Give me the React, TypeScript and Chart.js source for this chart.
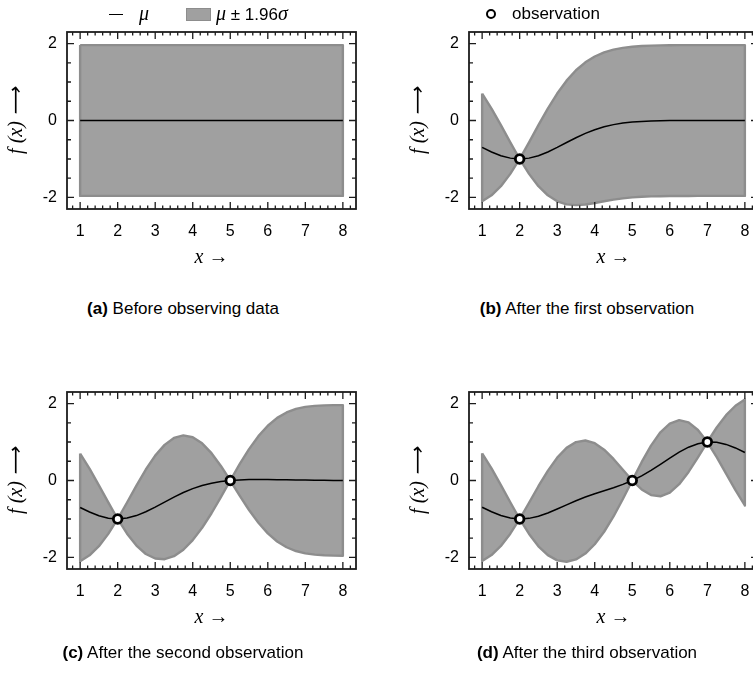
import React, { useEffect, useRef } from "react";
import { Chart, registerables } from "chart.js";

Chart.register(...registerables);

// ---------- data ----------
const xGrid = [1, 1.25, 1.5, 1.75, 2, 2.25, 2.5, 2.75, 3, 3.25, 3.5, 3.75, 4, 4.25, 4.5, 4.75, 5, 5.25, 5.5, 5.75, 6, 6.25, 6.5, 6.75, 7, 7.25, 7.5, 7.75, 8];

// (a) prior
const xA = [1, 8];
const meanA = [0, 0];
const upperA = [1.96, 1.96];
const lowerA = [-1.96, -1.96];

// (b) one observation
const meanB = [-0.7, -0.818, -0.915, -0.978, -1.0, -0.978, -0.915, -0.818, -0.7, -0.572, -0.448, -0.335, -0.24, -0.164, -0.107, -0.067, -0.04, -0.023, -0.013, -0.007, -0.003, -0.002, -0.001, 0, 0, 0, 0, 0, 0];
const upperB = [0.7, 0.309, -0.122, -0.568, -1.0, -0.568, -0.122, 0.309, 0.7, 1.035, 1.305, 1.512, 1.663, 1.769, 1.841, 1.888, 1.918, 1.936, 1.947, 1.953, 1.957, 1.958, 1.959, 1.96, 1.96, 1.96, 1.96, 1.96, 1.96];
const lowerB = [-2.1, -1.945, -1.707, -1.387, -1.0, -1.387, -1.707, -1.945, -2.1, -2.18, -2.2, -2.182, -2.143, -2.098, -2.056, -2.023, -1.999, -1.983, -1.973, -1.967, -1.963, -1.962, -1.961, -1.96, -1.96, -1.96, -1.96, -1.96, -1.96];
const obsXB = [2];
const obsYB = [-1];

// (c) two observations
const meanC = [-0.701, -0.819, -0.916, -0.979, -1.0, -0.977, -0.912, -0.813, -0.691, -0.56, -0.431, -0.313, -0.212, -0.131, -0.071, -0.028, 0.0, 0.016, 0.024, 0.026, 0.025, 0.022, 0.017, 0.013, 0.01, 0.007, 0.004, 0.003, 0.002];
const upperC = [0.699, 0.307, -0.125, -0.57, -1.0, -0.571, -0.132, 0.285, 0.646, 0.926, 1.106, 1.173, 1.125, 0.966, 0.71, 0.378, 0.0, 0.425, 0.815, 1.152, 1.424, 1.628, 1.769, 1.86, 1.912, 1.94, 1.953, 1.958, 1.96];
const lowerC = [-2.1, -1.945, -1.707, -1.387, -1.0, -1.383, -1.692, -1.91, -2.028, -2.046, -1.967, -1.799, -1.549, -1.229, -0.851, -0.434, 0.0, -0.392, -0.767, -1.1, -1.374, -1.585, -1.735, -1.833, -1.893, -1.927, -1.944, -1.953, -1.957];
const obsXC = [2, 5];
const obsYC = [-1, 0];

// (d) three observations
const meanD = [-0.695, -0.813, -0.91, -0.975, -1.0, -0.984, -0.929, -0.844, -0.741, -0.632, -0.526, -0.43, -0.344, -0.266, -0.188, -0.102, 0.0, 0.122, 0.264, 0.422, 0.584, 0.737, 0.866, 0.956, 1.0, 0.993, 0.938, 0.846, 0.727];
const upperD = [0.705, 0.313, -0.119, -0.566, -1.0, -0.578, -0.149, 0.251, 0.593, 0.848, 0.999, 1.039, 0.969, 0.801, 0.56, 0.279, 0.0, 0.476, 0.907, 1.253, 1.481, 1.569, 1.51, 1.312, 1.0, 1.377, 1.698, 1.942, 2.103];
const lowerD = [-2.094, -1.939, -1.701, -1.383, -1.0, -1.389, -1.709, -1.94, -2.075, -2.111, -2.051, -1.898, -1.657, -1.332, -0.935, -0.482, 0.0, -0.232, -0.379, -0.41, -0.314, -0.096, 0.222, 0.601, 1.0, 0.609, 0.179, -0.251, -0.649];
const obsXD = [2, 5, 7];
const obsYD = [-1, 0, 1];

// ticks
const xTickValues = [1, 2, 3, 4, 5, 6, 7, 8];
const yTickValues = [-2, 0, 2];
const xMinorTicks = [0.8, 1.2, 1.4, 1.6, 1.8, 2.2, 2.4, 2.6, 2.8, 3.2, 3.4, 3.6, 3.8, 4.2, 4.4, 4.6, 4.8, 5.2, 5.4, 5.6, 5.8, 6.2, 6.4, 6.6, 6.8, 7.2, 7.4, 7.6, 7.8, 8.2];
const yMinorTicks = [-1.5, -1, -0.5, 0.5, 1, 1.5];

const captions = [
  { bold: "(a)", text: " Before observing data" },
  { bold: "(b)", text: " After the first observation" },
  { bold: "(c)", text: " After the second observation" },
  { bold: "(d)", text: " After the third observation" },
];

// ---------- styling ----------
const SANS = '"Liberation Sans", Arial, Helvetica, sans-serif';
const SERIF = '"Liberation Serif", "Times New Roman", serif';
const BAND_FILL = "#a0a0a0";
const BAND_EDGE = "#8d8d8d";
const AXIS_COLOR = "#1c1c1c";

const CANVAS_W = 380;
const CANVAS_H = 290;

const frameTicksPlugin = {
  id: "frameTicks",
  afterDraw(chart: any) {
    const { ctx, chartArea } = chart;
    const { left, right, top, bottom } = chartArea;
    const xs = chart.scales.x;
    const ys = chart.scales.y;
    ctx.save();
    ctx.strokeStyle = AXIS_COLOR;
    ctx.lineWidth = 1.3;
    ctx.beginPath();
    const xTick = (v: number, len: number) => {
      const p = xs.getPixelForValue(v);
      ctx.moveTo(p, bottom);
      ctx.lineTo(p, bottom - len);
      ctx.moveTo(p, top);
      ctx.lineTo(p, top + len);
    };
    const yTick = (v: number, len: number) => {
      const p = ys.getPixelForValue(v);
      ctx.moveTo(left, p);
      ctx.lineTo(left + len, p);
      ctx.moveTo(right, p);
      ctx.lineTo(right - len, p);
    };
    xTickValues.forEach((v) => xTick(v, 7));
    xMinorTicks.forEach((v) => xTick(v, 3.5));
    yTickValues.forEach((v) => yTick(v, 7));
    yMinorTicks.forEach((v) => yTick(v, 4));
    ctx.stroke();
    ctx.lineWidth = 1.8;
    ctx.strokeRect(left, top, right - left, bottom - top);
    ctx.restore();
  },
};

type PanelData = {
  xs: number[];
  mean: number[];
  upper: number[];
  lower: number[];
  obsX: number[];
  obsY: number[];
};

function buildChart(canvas: HTMLCanvasElement, d: PanelData) {
  const band = [
    ...d.xs.map((x, i) => ({ x, y: d.upper[i] })),
    ...d.xs
      .map((x, i) => ({ x, y: d.lower[i] }))
      .reverse(),
    { x: d.xs[0], y: d.upper[0] },
  ];
  const meanPts = d.xs.map((x, i) => ({ x, y: d.mean[i] }));
  const obsPts = d.obsX.map((x, i) => ({ x, y: d.obsY[i] }));

  return new Chart(canvas, {
    type: "line",
    data: {
      datasets: [
        {
          label: "observation",
          data: obsPts,
          showLine: false,
          pointRadius: 4.3,
          pointHoverRadius: 4.3,
          pointBackgroundColor: "#ffffff",
          pointBorderColor: "#000000",
          pointBorderWidth: 2.8,
          order: 0,
          clip: false as any,
        },
        {
          label: "μ",
          data: meanPts,
          borderColor: "#000000",
          borderWidth: 1.5,
          pointRadius: 0,
          tension: 0,
          fill: false,
          order: 1,
        },
        {
          label: "μ ± 1.96σ",
          data: band,
          borderColor: BAND_EDGE,
          backgroundColor: BAND_FILL,
          borderWidth: 2.4,
          borderJoinStyle: "round",
          pointRadius: 0,
          tension: 0,
          fill: "shape",
          order: 2,
        },
      ] as any,
    },
    options: {
      animation: false,
      responsive: false,
      devicePixelRatio: 1,
      events: [],
      layout: { padding: { left: 0, right: 24, top: 32, bottom: 0 } },
      plugins: {
        legend: { display: false },
        tooltip: { enabled: false },
      },
      scales: {
        x: {
          type: "linear",
          min: 0.65,
          max: 8.35,
          grid: { display: false, drawTicks: false },
          border: { display: false },
          afterBuildTicks: (s: any) => {
            s.ticks = xTickValues.map((v) => ({ value: v }));
          },
          afterFit: (s: any) => {
            s.height = CANVAS_H - 209;
          },
          ticks: {
            autoSkip: false,
            maxRotation: 0,
            padding: 13,
            color: "#000",
            font: { family: SANS, size: 16 },
            callback: (v: any) => String(v),
          },
          title: {
            display: true,
            text: "x →",
            color: "#000",
            font: { family: SERIF, size: 20, style: "italic" },
            padding: { top: 0, bottom: 20 },
          },
        },
        y: {
          type: "linear",
          min: -2.3,
          max: 2.3,
          grid: { display: false, drawTicks: false },
          border: { display: false },
          afterBuildTicks: (s: any) => {
            s.ticks = yTickValues.map((v) => ({ value: v }));
          },
          afterFit: (s: any) => {
            s.width = 67;
          },
          ticks: {
            padding: 10,
            color: "#000",
            font: { family: SANS, size: 16 },
            callback: (v: any) => (v < 0 ? "-" + Math.abs(v) : String(v)),
          },
          title: {
            display: true,
            text: "f (x) ⟶",
            color: "#000",
            font: { family: SERIF, size: 20, style: "italic" },
            padding: { top: 5, bottom: 0 },
          },
        },
      },
    } as any,
    plugins: [frameTicksPlugin],
  });
}

function Panel({ left, top, data }: { left: number; top: number; data: PanelData }) {
  const ref = useRef<HTMLCanvasElement | null>(null);
  useEffect(() => {
    if (!ref.current) return;
    const chart = buildChart(ref.current, data);
    return () => chart.destroy();
  }, [data]);
  return (
    <canvas
      ref={ref}
      width={CANVAS_W}
      height={CANVAS_H}
      style={{ position: "absolute", left, top, width: CANVAS_W, height: CANVAS_H }}
    />
  );
}

const panelA: PanelData = { xs: xA, mean: meanA, upper: upperA, lower: lowerA, obsX: [], obsY: [] };
const panelB: PanelData = { xs: xGrid, mean: meanB, upper: upperB, lower: lowerB, obsX: obsXB, obsY: obsYB };
const panelC: PanelData = { xs: xGrid, mean: meanC, upper: upperC, lower: lowerC, obsX: obsXC, obsY: obsYC };
const panelD: PanelData = { xs: xGrid, mean: meanD, upper: upperD, lower: lowerD, obsX: obsXD, obsY: obsYD };

function Caption({ cx, cy, bold, text }: { cx: number; cy: number; bold: string; text: string }) {
  return (
    <div
      style={{
        position: "absolute",
        left: cx - 200,
        top: cy - 10,
        width: 400,
        lineHeight: "20px",
        fontSize: 17,
        fontFamily: SANS,
        textAlign: "center",
        color: "#000",
        whiteSpace: "nowrap",
      }}
    >
      <b>{bold}</b>
      {text}
    </div>
  );
}

export default function App() {
  return (
    <div
      style={{
        position: "absolute",
        left: 0,
        top: 0,
        width: 753,
        height: 679,
        overflow: "hidden",
        background: "#ffffff",
      }}
    >
      <Panel left={0} top={0} data={panelA} />
      <Panel left={402} top={0} data={panelB} />
      <Panel left={0} top={360} data={panelC} />
      <Panel left={402} top={360} data={panelD} />

      {/* legend: mean and band */}
      <div style={{ position: "absolute", left: 109, top: 14, width: 14, borderTop: "1.3px solid #000" }} />
      <div style={{ position: "absolute", left: 139, top: 2, lineHeight: "22px", font: `italic 20px ${SERIF}`, color: "#000" }}>μ</div>
      <div
        style={{
          position: "absolute",
          left: 186,
          top: 8,
          width: 25,
          height: 13,
          background: BAND_FILL,
          border: `1.5px solid ${BAND_EDGE}`,
          boxSizing: "border-box",
        }}
      />
      <div style={{ position: "absolute", left: 216, top: 3, lineHeight: "20px", fontSize: 17, fontFamily: SANS, color: "#000", whiteSpace: "nowrap" }}>
        <span style={{ fontFamily: SERIF, fontStyle: "italic", fontSize: 20 }}>μ</span>
        {" ± 1.96"}
        <span style={{ fontFamily: SERIF, fontStyle: "italic", fontSize: 20 }}>σ</span>
      </div>

      {/* legend: observation */}
      <div
        style={{
          position: "absolute",
          left: 486,
          top: 9,
          width: 10,
          height: 10,
          borderRadius: "50%",
          border: "2.6px solid #000",
          background: "#fff",
          boxSizing: "border-box",
        }}
      />
      <div style={{ position: "absolute", left: 512, top: 4, lineHeight: "20px", fontSize: 17, fontFamily: SANS, color: "#000" }}>observation</div>

      <Caption cx={183} cy={309} bold={captions[0].bold} text={captions[0].text} />
      <Caption cx={587} cy={309} bold={captions[1].bold} text={captions[1].text} />
      <Caption cx={183} cy={653} bold={captions[2].bold} text={captions[2].text} />
      <Caption cx={587} cy={653} bold={captions[3].bold} text={captions[3].text} />
    </div>
  );
}
